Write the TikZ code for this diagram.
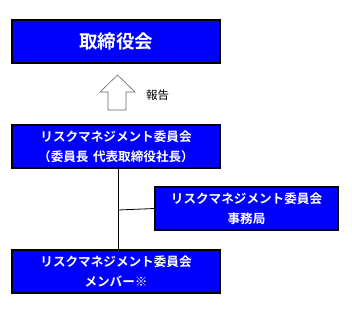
\documentclass[tikz,border=0pt]{standalone}
\usepackage{fontspec}
\newfontfamily\cjk{Noto Sans CJK JP}
\newfontfamily\cjkb{Noto Sans CJK JP Bold}
\begin{document}
\begin{tikzpicture}[x=1pt,y=-1pt,
  bluebox/.style={draw=black,line width=1.4pt,fill={rgb,255:red,0;green,0;blue,255},text=white,
    font=\cjkb\fontsize{12.6}{20}\selectfont,align=center,inner sep=0pt},
  conn/.style={draw=black,line width=0.8pt}]
\useasboundingbox (0,0) rectangle (352,316);
\node[bluebox,minimum width=208pt,minimum height=43pt] (board) at (116,41.5) {\fontsize{18.5}{20}\selectfont 取締役会};
\node[bluebox,minimum width=208pt,minimum height=43pt] (rmc) at (116,146.5) {リスクマネジメント委員会\\（委員長\hspace{0.35em}代表取締役社長）};
\node[bluebox,minimum width=183pt,minimum height=43pt] (sec) at (246.5,208.5) {リスクマネジメント委員会\\事務局};
\node[bluebox,minimum width=208pt,minimum height=43pt] (mem) at (116,271.5) {リスクマネジメント委員会\\メンバー※};
\draw[draw=gray!80!black,fill=white,line width=0.6pt] (108,110) -- (108,92) -- (100,92) -- (117.5,75) -- (135,92) -- (126,92) -- (126,110) -- cycle;
\node[font=\cjk\fontsize{11.5}{12}\selectfont,anchor=west,inner sep=0pt] (rep) at (146,95) {報告};
\coordinate (jn) at (118,210);
\draw[conn] (rmc.south -| jn) -- (mem.north -| jn);
\draw[conn] (jn) -- (sec.west);
\end{tikzpicture}
\end{document}
